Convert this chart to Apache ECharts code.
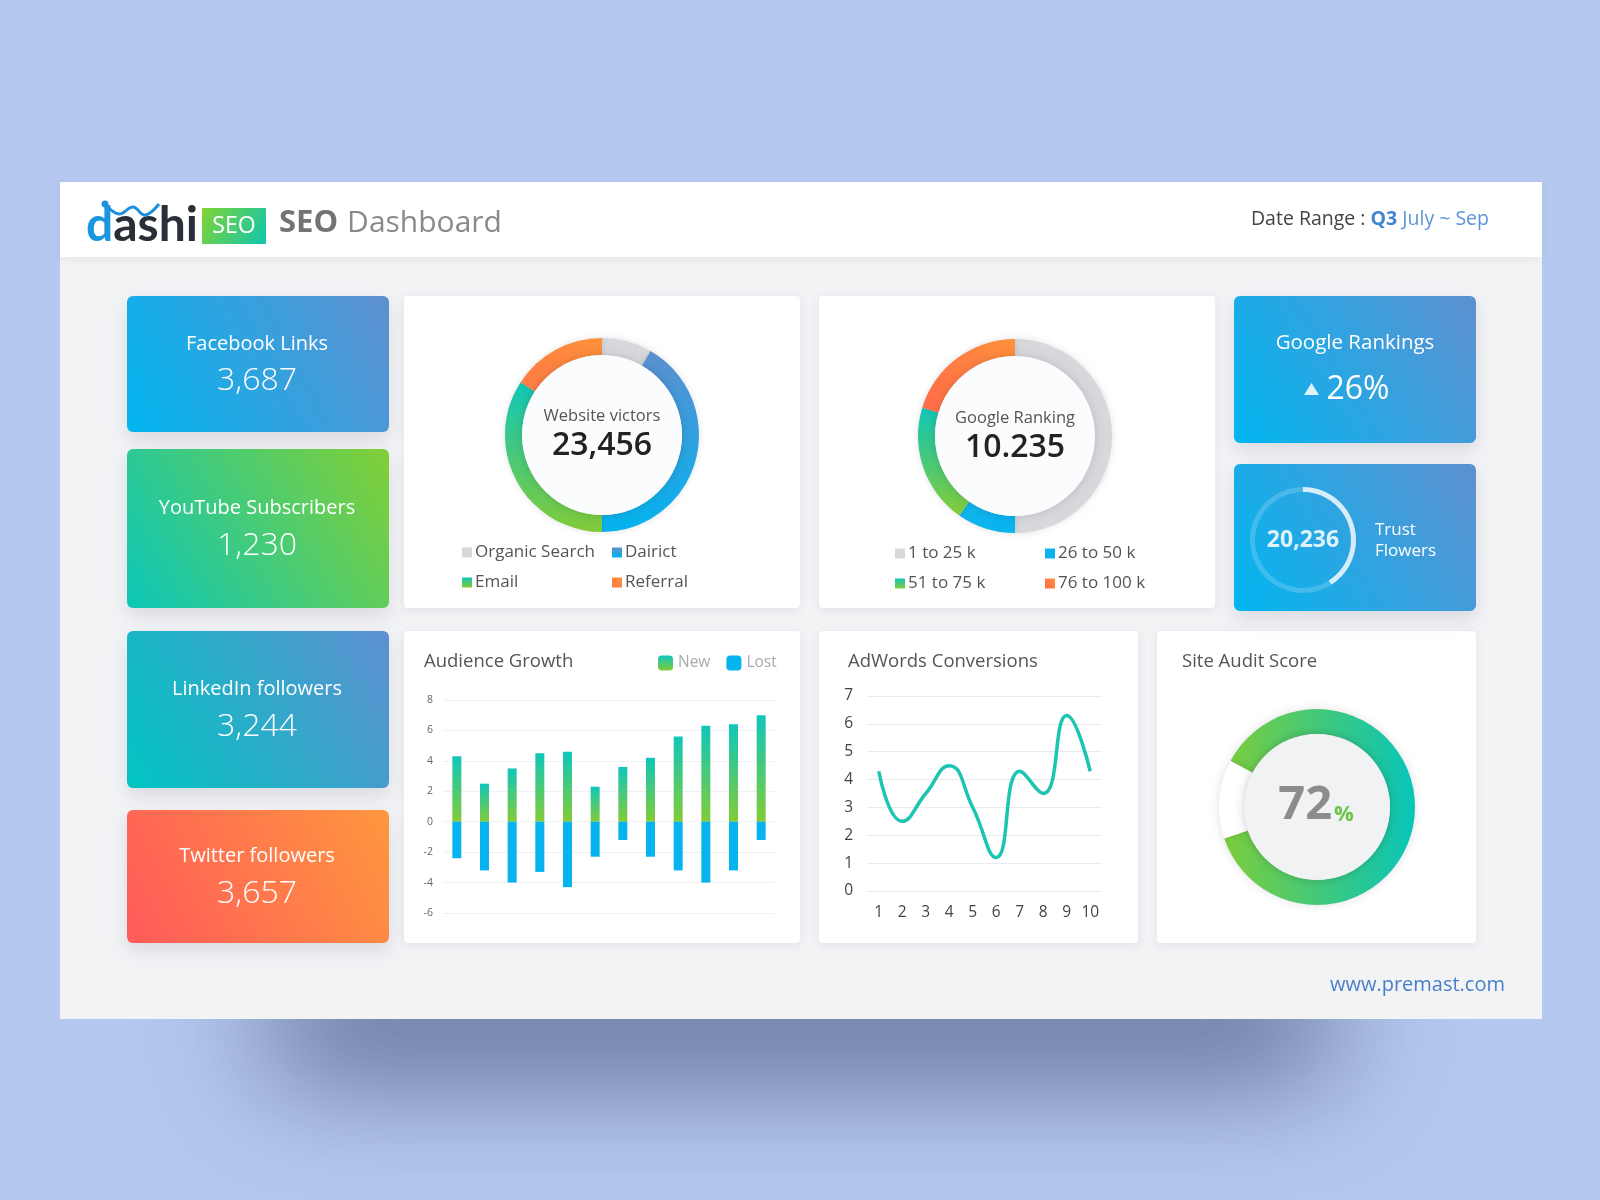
<!DOCTYPE html>
<html>
<head>
<meta charset="utf-8">
<script src="https://cdn.jsdelivr.net/npm/echarts@6/dist/echarts.min.js"></script>
<style>html,body{margin:0;padding:0;background:#b5c8ef;}#c{width:1600px;height:1200px;}</style>
</head>
<body>
<div id="c"></div>
<script>
// ---------- data ----------
const cardTitles = ['Facebook Links', 'YouTube Subscribers', 'LinkedIn followers', 'Twitter followers'];
const cardValues = ['3,687', '1,230', '3,244', '3,657'];
const visitorNames = ['Organic Search', 'Dairict', 'Email', 'Referral'];
const visitorValues = [30, 150, 123, 57];
const visitorsLabel = 'Website victors';
const visitorsTotal = '23,456';
const rankingNames = ['1 to 25 k', '26 to 50 k', '51 to 75 k', '76 to 100 k'];
const rankingValues = [180, 35, 72, 73];
const rankingLabel = 'Google Ranking';
const rankingTotal = '10.235';
const googleRankTitle = 'Google Rankings';
const googleRankChange = '26%';
const trustValue = '20,236';
const trustProgress = [41, 59];
const audienceCats = ['1','2','3','4','5','6','7','8','9','10','11','12'];
const audienceNew = [4.3, 2.5, 3.5, 4.5, 4.6, 2.3, 3.6, 4.2, 5.6, 6.3, 6.4, 7.0];
const audienceLost = [-2.4, -3.2, -4.0, -3.3, -4.3, -2.3, -1.2, -2.3, -3.2, -4.0, -3.2, -1.2];
const adwordsCats = ['1','2','3','4','5','6','7','8','9','10'];
const adwordsValues = [4.3, 2.5, 3.5, 4.5, 3.0, 1.2, 4.3, 3.5, 6.3, 4.3];
const auditScore = '72';
const auditRing = [87, 13];

// ---------- helpers ----------
const FONT = '"Open Sans", sans-serif';
const G = echarts.graphic;
function lg(x, y, x2, y2, c1, c2) { return new G.LinearGradient(x, y, x2, y2, [{offset: 0, color: c1}, {offset: 1, color: c2}]); }
function txt(x, y, text, size, color, weight, align, z) {
  align = align || 'center';
  return {type: 'text', x: x, y: y, z: z || 100, silent: true,
    style: {text: text, fill: color, fontSize: size, fontWeight: weight || 'normal', fontFamily: FONT,
      textAlign: align, align: align, textVerticalAlign: 'middle', verticalAlign: 'middle'}};
}
function rect(x, y, w, h, fill, r, z, shadow) {
  const st = {fill: fill};
  if (shadow) Object.assign(st, shadow);
  return {type: 'rect', z: z, silent: true, shape: {x: x, y: y, width: w, height: h, r: r || 0}, style: st};
}
const cardShadow = {shadowBlur: 18, shadowOffsetY: 8, shadowColor: 'rgba(60,70,100,0.14)'};
const whiteShadow = {shadowBlur: 10, shadowOffsetY: 2, shadowColor: 'rgba(60,70,100,0.10)'};

const elements = [];
// big soft shadow below the panel
elements.push(rect(270, 900, 1060, 100, 'rgba(70,85,125,0.9)', 0, -3,
  {shadowBlur: 120, shadowOffsetY: 72, shadowColor: 'rgba(55,68,105,0.85)'}));
// panel + header
elements.push(rect(60, 182, 1482, 837, '#f2f3f5', 0, -2));
elements.push(rect(60, 182, 1482, 75, '#ffffff', 0, -1, {shadowBlur: 10, shadowOffsetY: 3, shadowColor: 'rgba(0,0,0,0.05)'}));

// logo
elements.push({type: 'text', x: 86, y: 226, z: 100, silent: true, style: {
  text: '{d|d}{a|ashi}', textAlign: 'left', align: 'left', textVerticalAlign: 'middle', verticalAlign: 'middle',
  rich: {d: {fontSize: 48, fontWeight: 'bold', fontFamily: 'Lato, ' + FONT, fill: '#1896de', color: '#1896de'},
         a: {fontSize: 48, fontWeight: 'bold', fontFamily: 'Lato, ' + FONT, fill: '#2a2e38', color: '#2a2e38'}}}});
elements.push({type: 'polyline', z: 100, silent: true, shape: {points: [[106, 205], [119, 214], [133, 207], [145, 215], [159, 204]], smooth: 0.4},
  style: {stroke: '#1f8fe0', lineWidth: 3, fill: null}});
elements.push({type: 'circle', z: 100, silent: true, shape: {cx: 105, cy: 204, r: 3.5}, style: {fill: '#1f8fe0'}});
elements.push(rect(202, 208, 64, 36, lg(0, 0, 1, 1, '#82d336', '#10c6ab'), 1, 1));
elements.push(txt(234, 226, 'SEO', 23, '#ffffff', 'normal'));
elements.push({type: 'text', x: 279, y: 223, z: 100, silent: true, style: {
  text: '{b|SEO}{s| }{r|Dashboard}', textAlign: 'left', align: 'left', textVerticalAlign: 'middle', verticalAlign: 'middle',
  rich: {b: {fontSize: 31, fontWeight: 'bold', fontFamily: FONT, fill: '#737373', color: '#737373'},
         s: {fontSize: 31, width: 9},
         r: {fontSize: 30, fontWeight: 'normal', fontFamily: FONT, fill: '#8a8a8a', color: '#8a8a8a'}}}});
elements.push({type: 'text', x: 1489, y: 219, z: 100, silent: true, style: {
  text: '{a|Date Range : }{b|Q3}{c| July ~ Sep}', textAlign: 'right', align: 'right', textVerticalAlign: 'middle', verticalAlign: 'middle',
  rich: {a: {fontSize: 19.5, fontFamily: FONT, fill: '#444', color: '#444'},
         b: {fontSize: 19.5, fontWeight: 'bold', fontFamily: FONT, fill: '#3f85d2', color: '#3f85d2'},
         c: {fontSize: 19.5, fontFamily: FONT, fill: '#5b95d9', color: '#5b95d9'}}}});

// left stat cards
const leftCards = [
  {y: 296, h: 136, fill: lg(0, 1, 1, 0, '#02b6f0', '#5f8fcf')},
  {y: 449, h: 159, fill: lg(0, 1, 1, 0, '#0cc7b9', '#82cf35')},
  {y: 631, h: 157, fill: lg(0, 1, 1, 0, '#00c5c2', '#5d8fd0')},
  {y: 810, h: 133, fill: lg(0, 1, 1, 0, '#ff5a5a', '#ff973e')}
];
leftCards.forEach(function (c, i) {
  elements.push(rect(127, c.y, 262, c.h, c.fill, 6, 0, cardShadow));
  const cy = c.y + c.h / 2;
  elements.push(txt(257, cy - 20, cardTitles[i], 20, '#ffffff', 'normal'));
  elements.push(txt(257, cy + 17, cardValues[i], 32, '#ffffff', 300));
});

// white cards
elements.push(rect(404, 296, 396, 312, '#ffffff', 4, 0, whiteShadow));
elements.push(rect(819, 296, 396, 312, '#ffffff', 4, 0, whiteShadow));
elements.push(rect(404, 631, 396, 312, '#ffffff', 4, 0, whiteShadow));
elements.push(rect(819, 631, 319, 312, '#ffffff', 4, 0, whiteShadow));
elements.push(rect(1157, 631, 319, 312, '#ffffff', 4, 0, whiteShadow));

// right blue cards
elements.push(rect(1234, 296, 242, 147, lg(0, 1, 1, 0, '#02b6f0', '#5e90d0'), 6, 0, cardShadow));
elements.push(rect(1234, 464, 242, 147, lg(0, 1, 1, 0, '#02b6f0', '#5e90d0'), 6, 0, cardShadow));
elements.push(txt(1355, 343, googleRankTitle, 20.5, '#ffffff', 'normal'));
elements.push({type: 'polygon', z: 100, silent: true, shape: {points: [[1304, 395], [1319, 395], [1311.5, 383]]}, style: {fill: '#dff3fc'}});
elements.push(txt(1358, 390, googleRankChange, 32, '#ffffff', 'normal'));
elements.push(txt(1303, 540, trustValue, 23, '#dff3fc', 'bold'));
elements.push(txt(1375, 530, 'Trust', 17, '#ffffff', 'normal', 'left'));
elements.push(txt(1375, 551, 'Flowers', 17, '#ffffff', 'normal', 'left'));

// donut inner circles + center texts
elements.push({type: 'circle', z: 5, silent: true, shape: {cx: 602, cy: 435, r: 80}, style: {fill: '#fbfcfd', shadowBlur: 8, shadowColor: 'rgba(0,0,0,0.14)'}});
elements.push({type: 'circle', z: 5, silent: true, shape: {cx: 1015, cy: 436, r: 80}, style: {fill: '#fbfcfd', shadowBlur: 8, shadowColor: 'rgba(0,0,0,0.14)'}});
elements.push(txt(602, 416, visitorsLabel, 16.5, '#555', 'normal'));
elements.push(txt(602, 446, visitorsTotal, 32, '#222', 600));
elements.push(txt(1015, 418, rankingLabel, 16.5, '#555', 'normal'));
elements.push(txt(1015, 448, rankingTotal, 32, '#222', 600));

// bottom titles
elements.push(txt(424, 662, 'Audience Growth', 18.5, '#555', 'normal', 'left'));
elements.push(txt(848, 662, 'AdWords Conversions', 18.5, '#555', 'normal', 'left'));
elements.push(txt(1182, 662, 'Site Audit Score', 18.5, '#555', 'normal', 'left'));

// site audit center
elements.push({type: 'circle', z: 5, silent: true, shape: {cx: 1317, cy: 807, r: 73}, style: {fill: '#f1f2f4', shadowBlur: 10, shadowColor: 'rgba(0,0,0,0.2)'}});
elements.push(txt(1332, 806, auditScore, 47, '#8c8c8c', 'bold', 'right'));
elements.push(txt(1334, 815, '%', 22, '#6cc644', 'bold', 'left'));

// footer
elements.push(txt(1505, 985, 'www.premast.com', 20, '#4a7fc8', 'normal', 'right'));

// ---------- colors ----------
const visitorColors = ['#d6d8db', lg(0, 0, 0, 1, '#5c8fd1', '#02b4ef'), lg(0, 0, 0, 1, '#10c7b9', '#82cb37'), lg(0, 1, 1, 0, '#ff7a45', '#ff913a')];
const rankingColors = ['#d6d8db', lg(0, 0, 1, 0, '#10b3ea', '#07b4ef'), lg(0, 0, 0, 1, '#10c7b9', '#82cb37'), lg(0, 1, 1, 0, '#ff6a4a', '#ff913a')];

function legendItem(name, left, top) {
  return {data: [name], left: left, top: top, icon: 'rect', itemWidth: 10, itemHeight: 10, padding: 0,
    selectedMode: false, textStyle: {fontSize: 17, color: '#555', fontFamily: FONT, padding: [0, 0, 0, -2]}};
}
const legends = [
  legendItem(visitorNames[0], 462, 544), legendItem(visitorNames[1], 612, 544),
  legendItem(visitorNames[2], 462, 574), legendItem(visitorNames[3], 612, 574),
  legendItem(rankingNames[0], 895, 545), legendItem(rankingNames[1], 1045, 545),
  legendItem(rankingNames[2], 895, 575), legendItem(rankingNames[3], 1045, 575),
  {data: ['New', 'Lost'], left: 658, top: 655, icon: 'roundRect', itemWidth: 15, itemHeight: 15, itemGap: 16, padding: 0,
    selectedMode: false, textStyle: {fontSize: 15.5, color: '#aaa', fontFamily: FONT}}
];

const option = {
  animation: false,
  backgroundColor: '#b5c8ef',
  textStyle: {fontFamily: FONT},
  graphic: {elements: elements},
  legend: legends,
  grid: [
    {left: 443, top: 700, width: 332, height: 213},
    {left: 867, top: 696, width: 235, height: 195}
  ],
  xAxis: [
    {type: 'category', gridIndex: 0, data: audienceCats, axisLine: {show: false}, axisTick: {show: false}, axisLabel: {show: false}},
    {type: 'category', gridIndex: 1, data: adwordsCats, boundaryGap: true, axisLine: {show: false}, axisTick: {show: false},
      axisLabel: {fontSize: 15.5, color: '#444', margin: 14, fontFamily: FONT}}
  ],
  yAxis: [
    {type: 'value', gridIndex: 0, min: -6, max: 8, interval: 2, axisLine: {show: false}, axisTick: {show: false},
      axisLabel: {fontSize: 10.5, color: '#666', margin: 10, fontFamily: FONT}, splitLine: {lineStyle: {color: '#eef0f3'}}},
    {type: 'value', gridIndex: 1, min: 0, max: 7, interval: 1, axisLine: {show: false}, axisTick: {show: false},
      axisLabel: {fontSize: 15.5, color: '#444', margin: 14, fontFamily: FONT}, splitLine: {lineStyle: {color: '#e8eaed'}}}
  ],
  series: [
    {type: 'pie', name: 'visitors', center: [602, 435], radius: [80, 97], startAngle: 90, clockwise: true, silent: true,
      label: {show: false}, labelLine: {show: false},
      itemStyle: {shadowBlur: 6, shadowColor: 'rgba(0,0,0,0.12)'},
      data: visitorNames.map(function (n, i) { return {name: n, value: visitorValues[i], itemStyle: {color: visitorColors[i]}}; })},
    {type: 'pie', name: 'ranking', center: [1015, 436], radius: [80, 97], startAngle: 90, clockwise: true, silent: true,
      label: {show: false}, labelLine: {show: false},
      itemStyle: {shadowBlur: 6, shadowColor: 'rgba(0,0,0,0.12)'},
      data: rankingNames.map(function (n, i) { return {name: n, value: rankingValues[i], itemStyle: {color: rankingColors[i]}}; })},
    {type: 'pie', name: 'trust', center: [1303, 540], radius: [48, 53], startAngle: 90, clockwise: true, silent: true,
      label: {show: false}, labelLine: {show: false},
      data: [{value: trustProgress[0], name: 'trust-done', itemStyle: {color: 'rgba(255,255,255,0.8)'}},
             {value: trustProgress[1], name: 'trust-rest', itemStyle: {color: 'rgba(255,255,255,0.18)'}}]},
    {type: 'pie', name: 'audit', center: [1317, 807], radius: [73, 98], startAngle: 152, clockwise: true, silent: true,
      label: {show: false}, labelLine: {show: false},
      itemStyle: {shadowBlur: 10, shadowColor: 'rgba(0,0,0,0.12)'},
      data: [{value: auditRing[0], name: 'audit-score', itemStyle: {color: lg(0, 0, 1, 0, '#7ccd3c', '#08c5b9')}},
             {value: auditRing[1], name: 'audit-gap', itemStyle: {color: '#ffffff'}}]},
    {type: 'bar', name: 'New', xAxisIndex: 0, yAxisIndex: 0, data: audienceNew, barWidth: 9, barGap: '-100%', silent: true,
      itemStyle: {color: lg(0, 0, 0, 1, '#0fc6bb', '#82cc36')}},
    {type: 'bar', name: 'Lost', xAxisIndex: 0, yAxisIndex: 0, data: audienceLost, barWidth: 9, barGap: '-100%', silent: true,
      itemStyle: {color: '#05b4ee'}},
    {type: 'line', name: 'AdWords', xAxisIndex: 1, yAxisIndex: 1, data: adwordsValues, smooth: 0.5, symbol: 'none', silent: true,
      lineStyle: {color: '#1cc4b2', width: 3.5}}
  ]
};
const chart = echarts.init(document.getElementById('c'), null, {renderer: 'canvas', width: 1600, height: 1200});
chart.setOption(option);
</script>
</body>
</html>
